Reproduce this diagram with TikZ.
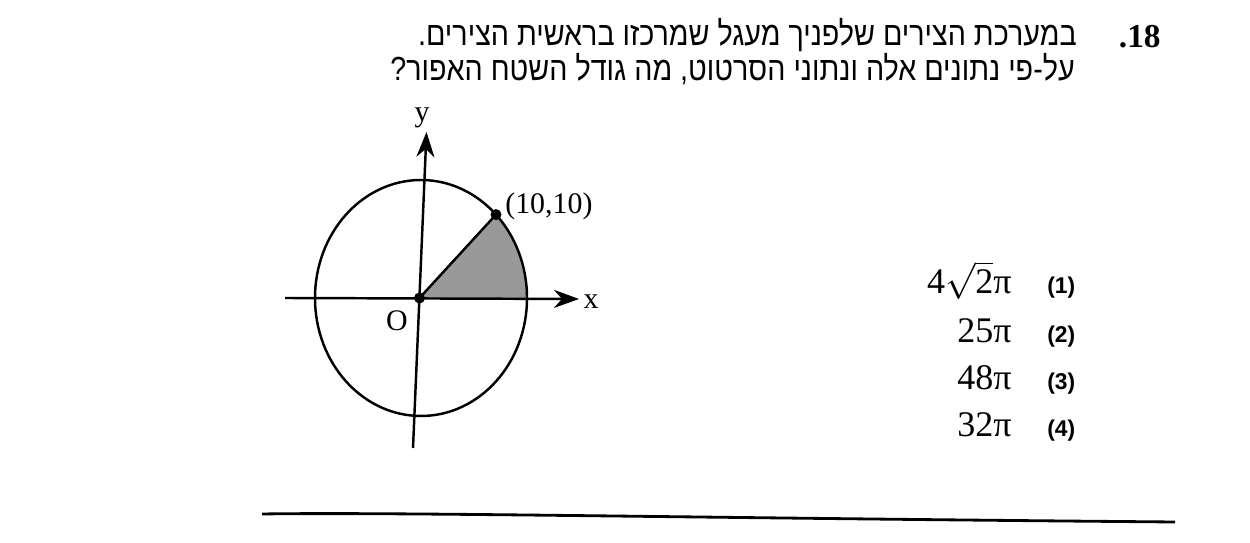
\documentclass[tikz,border=0pt]{standalone}
\usepackage{fontspec}
\setmainfont{Liberation Serif}
\newfontfamily\hebfont[Script=Hebrew,FakeStretch=0.86]{Liberation Sans}
\newfontfamily\labfont{Liberation Sans}
\TeXXeTstate=1
\usetikzlibrary{arrows.meta}
\tikzset{
  axis/.style={line width=1.4pt,-{Stealth[length=5mm,width=3.6mm,inset=1.6mm]}},
  curve/.style={line width=1.4pt},
  dotpt/.style={circle,fill=black,inner sep=0pt,minimum size=2.2mm},
  lab/.style={font=\fontsize{17}{20}\selectfont,inner sep=0pt},
  heb/.style={font=\hebfont\fontsize{19}{22}\selectfont,inner sep=0pt,anchor=base east},
  ans/.style={font=\fontsize{20.5}{24}\selectfont,inner sep=0pt,anchor=base east},
  num/.style={font=\labfont\bfseries\fontsize{13}{15}\selectfont,inner sep=0pt,anchor=base west}
}
\begin{document}
\begin{tikzpicture}[x=0.02cm,y=0.02cm]
\useasboundingbox (0,0) rectangle (1250,543);
\fill[white] (0,0) rectangle (1250,543);
% question
\node[heb,font=\bfseries\fontsize{19}{22}\selectfont] (qn) at (1161,495) {\beginR\beginL 18\endL.\endR};
\node[heb] (l1) at (1077,497) {\beginR במערכת הצירים שלפניך מעגל שמרכזו בראשית הצירים.\endR};
\node[heb] (l2) at (1075,462) {\beginR על-פי נתונים אלה ונתוני הסרטוט, מה גודל השטח האפור?\endR};
% figure
\coordinate (C) at (421,245);
\coordinate (O) at (419.5,245);
\coordinate (P) at (496,328.4);
\fill[black!40] (O) -- (527,245) arc[start angle=0,end angle=45,x radius=106,y radius=118] -- cycle;
\draw[curve] (C) ellipse[x radius=106,y radius=118];
\draw[curve] (O) -- (P);
\coordinate (xa) at (285,245);
\coordinate (xb) at (579,244);
\coordinate (ya) at (413,95);
\coordinate (yb) at (426.5,411);
\draw[axis] (xa) -- (xb);
\draw[axis] (ya) -- (yb);
\node[dotpt] (Od) at (O) {};
\node[dotpt] (Pd) at (P) {};
\node[lab] (ylab) at (422,425) {y};
\node[lab] (xlab) at (591,241) {x};
\node[lab] (Olab) at (397,222) {O};
\node[lab,anchor=west] (Plab) at (505,337) {(10,10)};
% answers
\node[ans] (a1) at (1012,249) {4$\sqrt{\mbox{2}}$π};
\node[ans] (a2) at (1012,200) {25π};
\node[ans] (a3) at (1012,153) {48π};
\node[ans] (a4) at (1012,106) {32π};
\node[num] (n1) at (1047,249) {(1)};
\node[num] (n2) at (1047,200) {(2)};
\node[num] (n3) at (1047,153) {(3)};
\node[num] (n4) at (1047,106) {(4)};
% rule
\coordinate (r1) at (262,29);
\coordinate (r2) at (1175,21);
\draw[line width=1.6pt] (r1) .. controls (400,31) and (700,25) .. (r2);
\end{tikzpicture}
\end{document}
